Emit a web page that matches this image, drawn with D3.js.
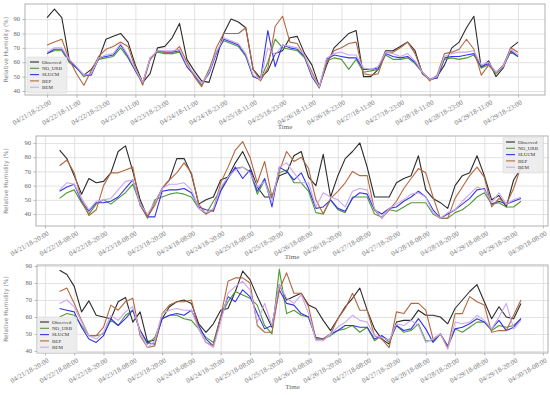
<!DOCTYPE html>
<html>
<head>
<meta charset="utf-8">
<script src="https://cdn.jsdelivr.net/npm/d3@7"></script>
<style>
  body { margin: 0; background: #fff; }
  svg { display: block; }
</style>
</head>
<body>
<svg id="chart" width="550" height="395"></svg>
<script>
// series names + colours
const seriesNames = ["Observed", "NO_URB", "SLUCM", "BEP", "BEM"];
const seriesColors = ["#2b2b2b", "#4e9a34", "#3434ea", "#b4683f", "#caa6f0"];

// top panel: 3-hourly from 04/21/18-23:00
const start1 = "04/21/18-23:00";
const obs1   = [91,97,91,62,56,51,55,62,76,78, 80,74,58,46,52,70,71,77,87,62, 54,47,46,62,80,90,88,84,55,49, 54,66,68,77,78,66,58,43,58,70, 75,80,82,50,50,55,68,68,71,74, 68,52,48,50,58,70,74,84,92,56, 61,50,56,70,74];
const noUrb1 = [66,68,68,60,56,50,52,62,63,64, 70,63,54,45,63,67,66,66,67,57, 51,44,55,67,75,73,71,64,50,48, 60,76,70,69,68,63,50,42,61,63, 62,55,62,53,54,55,65,62,62,63, 59,53,48,49,62,63,62,63,65,56, 58,52,57,67,64];
const slucm1 = [66,69,69,61,56,51,51,63,64,65, 72,64,54,46,62,68,67,67,68,57, 51,45,52,66,76,74,72,65,50,48, 82,57,72,70,69,64,50,43,62,65, 64,63,63,55,55,56,66,64,63,64, 60,53,48,49,63,64,64,65,66,57, 59,53,57,68,64];
const bep1   = [72,74,76,62,52,44,54,64,69,71, 74,71,56,44,62,68,67,66,71,60, 50,43,54,70,80,80,80,84,55,47, 56,85,92,74,73,64,53,43,60,68, 70,73,74,52,51,52,67,67,70,74, 66,53,47,51,66,67,69,76,69,51, 58,53,58,70,67];
const bem1   = [67,70,70,62,57,51,52,63,65,66, 73,65,55,46,63,68,68,68,69,58, 52,45,53,67,77,75,73,66,51,48, 70,65,72,71,70,65,51,43,63,66, 67,65,65,56,55,57,67,66,64,66, 61,53,48,50,64,66,67,67,68,58, 60,53,57,69,65];

// middle + bottom panels: 3-hourly from 04/22/18-02:00
const start23 = "04/22/18-02:00";
const obs2   = [85,79,67,54,65,62,63,69,84,88, 70,50,38,48,58,64,79,79,68,47, 50,52,64,66,76,84,73,59,52,52, 67,69,81,84,66,60,82,52,67,79, 84,90,73,52,52,52,62,65,67,81, 57,51,48,44,60,67,69,81,67,50, 53,45,64,72];
const noUrb2 = [51,55,57,48,40,47,50,47,51,55, 61,47,37,50,52,54,55,54,52,44, 40,49,57,66,72,73,70,54,64,51, 69,71,62,62,56,41,40,50,43,41, 52,52,52,40,38,43,42,45,48,48, 48,40,37,37,41,43,47,52,55,47, 48,45,45,49];
const slucm2 = [56,59,61,49,42,48,48,49,52,58, 64,47,38,38,56,57,57,58,55,45, 43,42,56,65,73,65,71,56,65,45, 73,70,64,69,58,44,45,50,44,42, 51,55,54,43,40,44,45,49,52,56, 52,43,37,40,43,47,51,57,58,47, 49,47,49,51];
const bep2   = [74,78,69,50,39,43,60,69,69,71, 73,46,38,46,58,64,69,76,69,47, 40,43,62,73,85,91,80,62,77,52, 70,84,77,80,72,50,40,51,56,62, 70,67,67,43,37,43,49,58,65,72, 69,52,37,37,51,59,67,73,66,45, 51,47,58,73];
const bem2   = [57,62,61,51,43,49,50,51,57,63, 64,47,40,48,58,61,61,62,57,44, 41,44,59,66,71,73,69,59,63,48, 73,76,69,62,62,45,55,52,50,45, 56,58,57,44,37,44,47,50,54,55, 52,41,37,41,43,49,54,59,57,48, 55,47,50,52];

const obs3   = [87.5,85,78,63,69.5,61,60,59,69,71.5, 57,63,45.5,46.5,59,66,69,70,68,56, 51,56,64,65,75,87,82,72,63,54, 79,70,72,74,67,65,58,52,59,66, 71,77,64,53,47,44,57,58,58,64, 61,61,60,56,65,70,75,79,69,59, 66,60,59,68];
const noUrb3 = [60,62,61,55,49,49,50,58,55,61, 64,52,44,48,59,61,61,59,58,53, 48,45,60,69,75,73,71,67,55,50, 88,62,64,61,60,47,47,49,52,53, 55,51,54,46,49,45,55,51,52,56, 46,46,50,42,53,51,54,57,57,52, 55,54,55,59];
const slucm3 = [65,64,63,54,47,45,49,59,55,59, 64,52,45,44,59,61,62,61,64,55, 47,43,60,72,69,76,72,62,53,55, 76,68,67,62,60,48,47,50,52,55, 55,54,54,47,49,46,55,52,53,59, 53,45,50,43,53,54,56,59,57,53, 58,52,54,59];
const bep3   = [75,77,68,58,49,49,54,67,64,69, 71,49,42,43,62,67,69,69,70,53, 45,43,60,81,83,83,80,55,51,51, 76,86,74,74,66,47,47,50,59,65, 74,64,64,49,47,42,63,62,68,68, 64,47,50,42,62,62,72,69,67,51, 52,52,61,70];
const bem3   = [68,70,66,57,49,47,51,61,58,63, 66,51,42,46,62,64,65,64,64,53, 45,42,57,74,78,81,76,57,68,55, 79,71,68,73,62,46,46,50,54,57, 61,58,57,49,48,46,56,55,58,55, 45,47,50,41,57,56,57,61,58,53, 60,68,53,58];

// tick labels
const ticks1 = ["04/21/18-23:00","04/22/18-11:00","04/22/18-23:00","04/23/18-11:00","04/23/18-23:00","04/24/18-11:00","04/24/18-23:00","04/25/18-11:00","04/25/18-23:00","04/26/18-11:00","04/26/18-23:00","04/27/18-11:00","04/27/18-23:00","04/28/18-11:00","04/28/18-23:00","04/29/18-11:00","04/29/18-23:00"];
const ticks23 = ["04/21/18-20:00","04/22/18-08:00","04/22/18-20:00","04/23/18-08:00","04/23/18-20:00","04/24/18-08:00","04/24/18-20:00","04/25/18-08:00","04/25/18-20:00","04/26/18-08:00","04/26/18-20:00","04/27/18-08:00","04/27/18-20:00","04/28/18-08:00","04/28/18-20:00","04/29/18-08:00","04/29/18-20:00","04/30/18-08:00"];
const yTicks = [40, 50, 60, 70, 80, 90];

const parse = d3.timeParse("%m/%d/%y-%H:%M");

const panels = [
  { box: [25, 4, 545, 95],   xDom: ["04/21/18-14:00", "04/30/18-10:00"], yDom: [37.2, 100.5],
    start: start1,  ticks: ticks1,  data: [obs1, noUrb1, slucm1, bep1, bem1], legend: [27, 57],  timeY: 129 },
  { box: [36, 136, 548, 226], xDom: ["04/21/18-16:20", "04/30/18-10:05"], yDom: [31.6, 94.9],
    start: start23, ticks: ticks23, data: [obs2, noUrb2, slucm2, bep2, bem2], legend: [503, 137], timeY: 259 },
  { box: [37, 265, 548, 353], xDom: ["04/21/18-16:45", "04/30/18-10:05"], yDom: [38.8, 90.6],
    start: start23, ticks: ticks23, data: [obs3, noUrb3, slucm3, bep3, bem3], legend: [37, 317], timeY: 389 }
];

const svg = d3.select("#chart");
const serif = "'Liberation Serif', 'DejaVu Serif', serif";
const sans = "'DejaVu Sans', sans-serif";

panels.forEach(p => {
  const [x0, y0, x1, y1] = p.box;
  const x = d3.scaleTime().domain(p.xDom.map(parse)).range([x0, x1]);
  const y = d3.scaleLinear().domain(p.yDom).range([y1, y0]);
  const t0 = parse(p.start);
  const times = p.data[0].map((_, i) => d3.timeHour.offset(t0, 3 * i));
  const tickDates = p.ticks.map(parse);

  const g = svg.append("g");

  // grid
  g.append("g")
    .attr("transform", `translate(0,${y1})`)
    .call(d3.axisBottom(x).tickValues(tickDates).tickSize(-(y1 - y0)).tickFormat(""))
    .call(a => a.select(".domain").remove())
    .selectAll("line").attr("stroke", "#dcdcdc").attr("stroke-width", 0.8);
  g.append("g")
    .attr("transform", `translate(${x0},0)`)
    .call(d3.axisLeft(y).tickValues(yTicks).tickSize(-(x1 - x0)).tickFormat(""))
    .call(a => a.select(".domain").remove())
    .selectAll("line").attr("stroke", "#dcdcdc").attr("stroke-width", 0.8);

  // small outside tick marks
  g.append("g")
    .attr("transform", `translate(0,${y1})`)
    .call(d3.axisBottom(x).tickValues(tickDates).tickSize(2.5).tickFormat(""))
    .call(a => a.select(".domain").remove())
    .selectAll("line").attr("stroke", "#999").attr("stroke-width", 0.7);
  g.append("g")
    .attr("transform", `translate(${x0},0)`)
    .call(d3.axisLeft(y).tickValues(yTicks).tickSize(2.5).tickFormat(""))
    .call(a => a.select(".domain").remove())
    .selectAll("line").attr("stroke", "#999").attr("stroke-width", 0.7);

  // tick labels
  g.selectAll(".yl").data(yTicks).enter().append("text")
    .attr("x", x0 - 5).attr("y", d => y(d)).attr("dy", "0.33em")
    .attr("text-anchor", "end").attr("font-family", serif).attr("font-size", 6.5)
    .attr("fill", "#666").text(d => d);
  g.selectAll(".xl").data(p.ticks).enter().append("text")
    .attr("transform", d => `translate(${x(parse(d)) + 2},${y1 + 4.5}) rotate(-30)`)
    .attr("dy", "0.7em").attr("text-anchor", "end")
    .attr("font-family", serif).attr("font-size", 7).attr("fill", "#777").text(d => d);

  // axis titles
  g.append("text").attr("x", (x0 + x1) / 2).attr("y", p.timeY).attr("text-anchor", "middle")
    .attr("font-family", serif).attr("font-size", 7).attr("fill", "#666").text("Time");
  g.append("text").attr("transform", `translate(8,${(y0 + y1) / 2}) rotate(-90)`)
    .attr("text-anchor", "middle").attr("font-family", sans).attr("font-size", 6)
    .attr("fill", "#888").text("Relative Humidity (%)");

  // lines
  const line = d3.line().x((d, i) => x(times[i])).y(d => y(d));
  p.data.forEach((vals, si) => {
    g.append("path").datum(vals)
      .attr("d", line).attr("fill", "none")
      .attr("stroke", seriesColors[si]).attr("stroke-width", 1.1)
      .attr("stroke-linejoin", "round");
  });

  // frame
  g.append("rect").attr("x", x0).attr("y", y0).attr("width", x1 - x0).attr("height", y1 - y0)
    .attr("fill", "none").attr("stroke", "#a8a8a8").attr("stroke-width", 0.9);

  // legend
  const [lx, ly] = p.legend;
  const lg = g.append("g").attr("transform", `translate(${lx},${ly})`);
  lg.append("rect").attr("width", 40).attr("height", 36).attr("rx", 1.5)
    .attr("fill", "#ebebeb").attr("fill-opacity", 0.9).attr("stroke", "#d6d6d6").attr("stroke-width", 0.5);
  seriesNames.forEach((name, i) => {
    const ry = 5 + i * 6.3;
    lg.append("line").attr("x1", 3).attr("x2", 12).attr("y1", ry).attr("y2", ry)
      .attr("stroke", seriesColors[i]).attr("stroke-width", 1.1);
    lg.append("text").attr("x", 15).attr("y", ry).attr("dy", "0.33em")
      .attr("font-family", serif).attr("font-size", 5).attr("fill", "#333").text(name);
  });
});
</script>
</body>
</html>
